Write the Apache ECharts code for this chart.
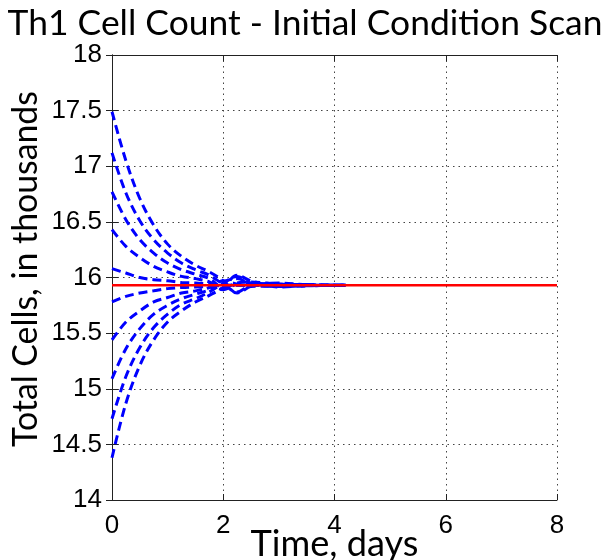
<!DOCTYPE html>
<html><head><meta charset="utf-8">
<script src="https://cdn.jsdelivr.net/npm/echarts@6/dist/echarts.min.js"></script>
<style>html,body{margin:0;padding:0;background:#fff}#c{width:607px;height:560px}</style>
</head><body><div id="c"></div><script>
// ---- data ----
const titleText = 'Th1 Cell Count - Initial Condition Scan';
const xName = 'Time, days';
const yName = 'Total Cells, in thousands';
const xTicks = [0, 2, 4, 6, 8];
const yTicks = [14, 14.5, 15, 15.5, 16, 16.5, 17, 17.5, 18];
const timeDays = [0, 0.25, 0.5, 0.75, 1, 1.25, 1.5, 1.75, 2, 2.25, 2.5, 3, 3.5, 4, 4.2];
const run1 = [17.49, 17.05, 16.71, 16.47, 16.30, 16.19, 16.11, 16.05, 15.97, 15.86, 15.92, 15.95, 15.935, 15.93, 15.93];
const run2 = [17.12, 16.76, 16.51, 16.34, 16.22, 16.13, 16.07, 16.02, 15.94, 15.87, 15.93, 15.94, 15.935, 15.93];
const run3 = [16.77, 16.52, 16.34, 16.22, 16.13, 16.07, 16.03, 15.99, 15.91, 15.95, 15.96, 15.94, 15.935, 15.93, 15.93];
const run4 = [16.43, 16.28, 16.18, 16.10, 16.05, 16.01, 15.99, 15.96, 15.89, 15.94, 15.945, 15.94, 15.935];
const run5 = [16.08, 16.04, 16.00, 15.98, 15.97, 15.955, 15.95, 15.94, 15.935, 15.93, 15.93, 15.93, 15.93, 15.93, 15.93];
const run6 = [15.78, 15.83, 15.86, 15.88, 15.90, 15.91, 15.915, 15.92, 15.925, 15.93, 15.93, 15.93, 15.93, 15.93, 15.93];
const run7 = [15.44, 15.60, 15.70, 15.78, 15.82, 15.86, 15.88, 15.91, 15.97, 15.94, 15.92, 15.925, 15.93];
const run8 = [15.09, 15.36, 15.54, 15.67, 15.75, 15.81, 15.85, 15.89, 15.96, 15.99, 15.94, 15.92, 15.93, 15.93];
const run9 = [14.73, 15.11, 15.37, 15.55, 15.67, 15.76, 15.81, 15.87, 15.95, 16.01, 15.95, 15.92, 15.925, 15.93, 15.93];
const run10 = [14.38, 14.87, 15.21, 15.44, 15.60, 15.70, 15.78, 15.84, 15.91, 16.02, 15.97, 15.915, 15.925, 15.93, 15.93];
const runs = [run1, run2, run3, run4, run5, run6, run7, run8, run9, run10];
const steadyX = [0, 8];
const steadyY = [15.93, 15.93];

// ---- layout helpers ----
function fitSize(text, family, target) {
  const ctx = document.createElement('canvas').getContext('2d');
  ctx.font = '100px ' + family;
  return 100 * target / ctx.measureText(text).width;
}
const nameFont = 'Lato';
const titleSize = fitSize(titleText, nameFont, 595);
const xNameSize = fitSize(xName, nameFont, 168);
const yNameSize = fitSize(yName, nameFont, 356);
const tickFont = 'Liberation Sans';

const chart = echarts.init(document.getElementById('c'), null, {renderer: 'canvas'});
const gridLine = {show: true, lineStyle: {color: '#444', type: [1.5, 4], width: 1}};
const axisLineStyle = {show: true, lineStyle: {color: '#222', width: 1}};
const tickStyle = {show: true, inside: true, length: 6, lineStyle: {color: '#222'}};

const series = runs.map(r => ({
  type: 'line',
  data: r.map((v, i) => [timeDays[i], v]),
  showSymbol: false,
  smooth: 0.35,
  lineStyle: {color: '#0000ff', width: 3, type: [9, 5]},
  animation: false,
  z: 2
}));
series.push({
  type: 'line',
  data: steadyX.map((x, i) => [x, steadyY[i]]),
  showSymbol: false,
  lineStyle: {color: '#ff0000', width: 2.5},
  animation: false,
  z: 3
});

chart.setOption({
  animation: false,
  backgroundColor: '#fff',
  grid: {left: 112, right: 50, top: 55, bottom: 60, containLabel: false},
  xAxis: [{
    type: 'value', min: xTicks[0], max: xTicks[xTicks.length - 1], interval: 2,
    axisLine: axisLineStyle, axisTick: tickStyle, splitLine: gridLine,
    axisLabel: {color: '#000', fontFamily: tickFont, fontSize: 26, margin: 13}
  }, {
    type: 'value', position: 'top', min: 0, max: 8, interval: 2,
    axisLine: axisLineStyle, axisTick: tickStyle, splitLine: {show: false},
    axisLabel: {show: false}
  }],
  yAxis: [{
    type: 'value', min: yTicks[0], max: yTicks[yTicks.length - 1], interval: 0.5,
    axisLine: axisLineStyle, axisTick: tickStyle, splitLine: gridLine,
    axisLabel: {color: '#000', fontFamily: tickFont, fontSize: 26, margin: 10}
  }, {
    type: 'value', position: 'right', min: 14, max: 18, interval: 0.5,
    axisLine: axisLineStyle, axisTick: tickStyle, splitLine: {show: false},
    axisLabel: {show: false}
  }],
  graphic: [
    {type: 'text', x: 305, y: 24, style: {text: titleText, fontFamily: nameFont, fontSize: titleSize, fill: '#000', textAlign: 'center', textVerticalAlign: 'middle'}},
    {type: 'text', x: 334.5, y: 544, style: {text: xName, fontFamily: nameFont, fontSize: xNameSize, fill: '#000', textAlign: 'center', textVerticalAlign: 'middle'}},
    {type: 'text', x: 26, y: 269, rotation: Math.PI / 2, style: {text: yName, fontFamily: nameFont, fontSize: yNameSize, fill: '#000', textAlign: 'center', textVerticalAlign: 'middle'}}
  ],
  series: series
});
</script></body></html>
